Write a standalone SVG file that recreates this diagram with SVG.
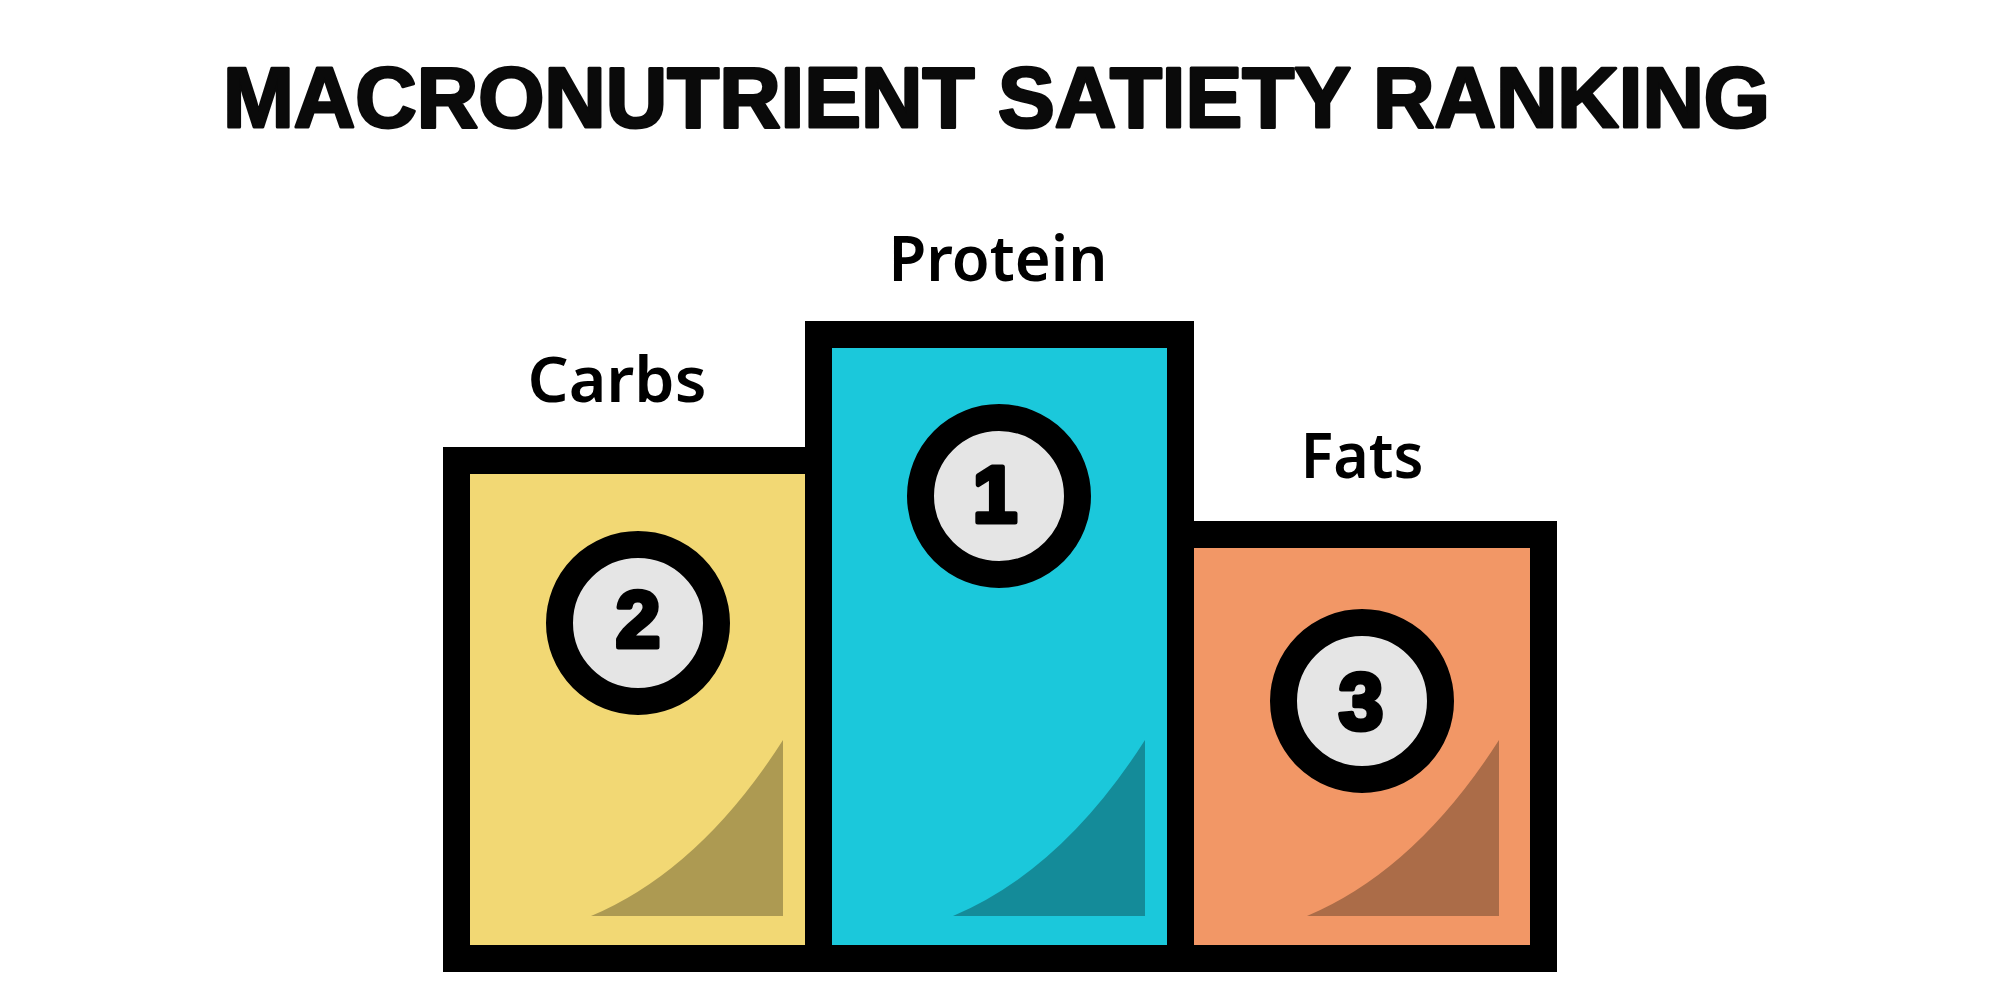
<svg xmlns="http://www.w3.org/2000/svg" width="2000" height="1000" viewBox="0 0 2000 1000">
  <style>
    .title { font-family: "Liberation Sans", Arial, sans-serif; font-weight: 700; font-size: 85px; fill: #0a0a0a; stroke: #0a0a0a; stroke-width: 3; stroke-linejoin: round; paint-order: stroke; }
    .label { font-family: "Noto Sans", "Open Sans", sans-serif; font-weight: 600; font-size: 63px; fill: #000; text-anchor: middle; }
    .frame { fill: #000; }
    .badge { fill: #e5e5e5; stroke: #000; stroke-width: 27; }
    .digit { font-family: "Liberation Sans", Arial, sans-serif; font-weight: 700; font-size: 80px; fill: #000; stroke: #000; stroke-width: 5; stroke-linejoin: round; paint-order: stroke; text-anchor: middle; }
  </style>
  <defs>
    <path id="shadow" d="M591,916 Q700,870 783,740 L783,916 Z"/>
  </defs>
  <rect width="2000" height="1000" fill="#ffffff"/>

  <g id="title">
    <text class="title" x="223" y="127" textLength="1547" lengthAdjust="spacingAndGlyphs">MACRONUTRIENT SATIETY RANKING</text>
  </g>

  <g id="carbs">
    <rect class="frame" x="443" y="447" width="389" height="525"/>
    <rect x="470" y="474" width="335" height="471" fill="#f2d874"/>
    <use href="#shadow" fill="#ad9a52"/>
    <circle class="badge" cx="638" cy="623" r="78.5"/>
    <text class="digit" x="638" y="647">2</text>
    <text class="label" x="617" y="402" textLength="179" lengthAdjust="spacingAndGlyphs">Carbs</text>
  </g>

  <g id="protein">
    <rect class="frame" x="805" y="321" width="389" height="651"/>
    <rect x="832" y="348" width="335" height="597" fill="#1bc8db"/>
    <use href="#shadow" x="362" fill="#148b99"/>
    <circle class="badge" cx="999" cy="496" r="78.5"/>
    <text class="digit" x="995" y="522">1</text>
    <text class="label" x="998" y="281" textLength="219" lengthAdjust="spacingAndGlyphs">Protein</text>
  </g>

  <g id="fats">
    <rect class="frame" x="1167" y="521" width="390" height="451"/>
    <rect x="1194" y="548" width="336" height="397" fill="#f29766"/>
    <use href="#shadow" x="716" fill="#ab6c48"/>
    <circle class="badge" cx="1362" cy="701" r="78.5"/>
    <text class="digit" x="1361" y="729">3</text>
    <text class="label" x="1362" y="478" textLength="123" lengthAdjust="spacingAndGlyphs">Fats</text>
  </g>

  <g id="connectors"></g>
</svg>
